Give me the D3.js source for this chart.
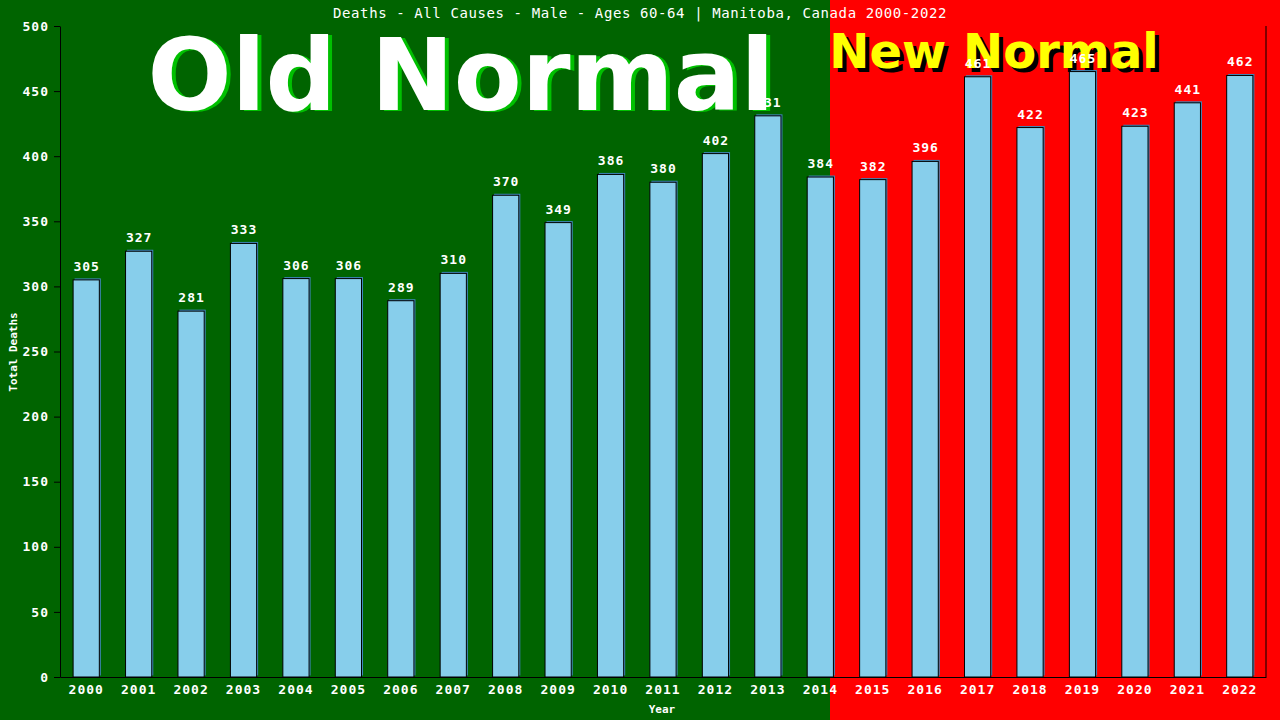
<!DOCTYPE html>
<html>
<head>
  <meta charset="utf-8">
  <script src="https://d3js.org/d3.v7.min.js"></script>
</head>
<style>
  body { margin: 0; background: #006400; }
  svg { display: block; }
  .tick text { font-family: "DejaVu Sans Mono", monospace; font-size: 13px; font-weight: bold; letter-spacing: 1px; fill: white; }
  .tick line, .domain { stroke: black; }
</style>
<body>
  <svg id="chart"></svg>
</body>
<script>
  // data
  var years = ["2000","2001","2002","2003","2004","2005","2006","2007","2008","2009","2010","2011",
               "2012","2013","2014","2015","2016","2017","2018","2019","2020","2021","2022"];
  var deaths = [305, 327, 281, 333, 306, 306, 289, 310, 370, 349, 386, 380,
                402, 431, 384, 382, 396, 461, 422, 465, 423, 441, 462];
  var yTicks = [0, 50, 100, 150, 200, 250, 300, 350, 400, 450, 500];
  var title = "Deaths - All Causes - Male - Ages 60-64 | Manitoba, Canada 2000-2022";

  var w = 1280;
  var h = 720;
  var margin = {top: 26, right: 14, bottom: 43, left: 60};
  var splitX = 830;   // where the "new normal" background starts

  var rows = years.map(function(y, i) { return {year: y, value: deaths[i]}; });

  var svg = d3.select("#chart")
    .attr("width", w)
    .attr("height", h);

  // backgrounds
  svg.append("rect").attr("x", 0).attr("y", 0).attr("width", splitX).attr("height", h).attr("fill", "#006400");
  svg.append("rect").attr("x", splitX).attr("y", 0).attr("width", w - splitX).attr("height", h).attr("fill", "#ff0000");

  var x = d3.scaleBand()
    .domain(years)
    .range([margin.left, w - margin.right])
    .paddingInner(0.5)
    .paddingOuter(0.25);

  var y = d3.scaleLinear()
    .domain([0, 500])
    .range([h - margin.bottom, margin.top]);

  // big labels, under the bars
  var bigFont = "'DejaVu Sans', sans-serif";
  svg.append("text").attr("x", 465).attr("y", 111)
    .attr("text-anchor", "middle").attr("font-family", bigFont).attr("font-weight", "bold")
    .attr("font-size", 99).attr("fill", "#00c000").text("Old Normal");
  svg.append("text").attr("x", 461).attr("y", 110)
    .attr("text-anchor", "middle").attr("font-family", bigFont).attr("font-weight", "bold")
    .attr("font-size", 99).attr("fill", "white").text("Old Normal");

  svg.append("text").attr("x", 998).attr("y", 72)
    .attr("text-anchor", "middle").attr("font-family", bigFont).attr("font-weight", "bold")
    .attr("font-size", 48).attr("fill", "black").text("New Normal");
  svg.append("text").attr("x", 994).attr("y", 68)
    .attr("text-anchor", "middle").attr("font-family", bigFont).attr("font-weight", "bold")
    .attr("font-size", 48).attr("fill", "#ffff00").text("New Normal");

  // bars: a blue shadow then the bar itself
  var g = svg.append("g");
  g.selectAll("rect.shadow")
    .data(rows)
    .enter().append("rect")
    .attr("class", "shadow")
    .attr("x", function(d) { return x(d.year) + 1.5; })
    .attr("y", function(d) { return y(d.value) - 1.5; })
    .attr("width", x.bandwidth())
    .attr("height", function(d) { return y(0) - y(d.value); })
    .attr("fill", "#3f86b8");

  g.selectAll("rect.bar")
    .data(rows)
    .enter().append("rect")
    .attr("class", "bar")
    .attr("x", function(d) { return x(d.year); })
    .attr("y", function(d) { return y(d.value); })
    .attr("width", x.bandwidth())
    .attr("height", function(d) { return y(0) - y(d.value); })
    .attr("fill", "#87ceeb")
    .attr("stroke", "black")
    .attr("stroke-width", 1);

  g.selectAll("text.val")
    .data(rows)
    .enter().append("text")
    .attr("class", "val")
    .attr("x", function(d) { return x(d.year) + x.bandwidth() / 2 + 0.5; })
    .attr("y", function(d) { return y(d.value) - 9; })
    .attr("text-anchor", "middle")
    .attr("font-family", "'DejaVu Sans Mono', monospace")
    .attr("font-weight", "bold")
    .attr("font-size", 13)
    .attr("letter-spacing", 1)
    .attr("fill", "white")
    .text(function(d) { return d.value; });

  // axes
  svg.append("g")
    .attr("transform", "translate(" + margin.left + ",0)")
    .call(d3.axisLeft(y).tickValues(yTicks).tickSize(6).tickSizeOuter(0).tickPadding(5));

  svg.append("g")
    .attr("transform", "translate(0," + y(0) + ")")
    .call(d3.axisBottom(x).tickSize(0).tickPadding(8));

  svg.append("line")
    .attr("x1", w - margin.right).attr("x2", w - margin.right)
    .attr("y1", margin.top).attr("y2", y(0))
    .attr("stroke", "black");

  // titles
  svg.append("text").attr("x", 640).attr("y", 18)
    .attr("text-anchor", "middle")
    .attr("font-family", "'DejaVu Sans Mono', monospace")
    .attr("font-size", 14).attr("letter-spacing", 0.6)
    .attr("fill", "white").text(title);

  svg.append("text").attr("x", 662).attr("y", 713)
    .attr("text-anchor", "middle")
    .attr("font-family", "'DejaVu Sans Mono', monospace").attr("font-weight", "bold")
    .attr("font-size", 11).attr("fill", "white").text("Year");

  svg.append("text")
    .attr("transform", "translate(16.5,352) rotate(-90)")
    .attr("text-anchor", "middle")
    .attr("font-family", "'DejaVu Sans Mono', monospace").attr("font-weight", "bold")
    .attr("font-size", 11).attr("fill", "white").text("Total Deaths");
</script>
</html>
